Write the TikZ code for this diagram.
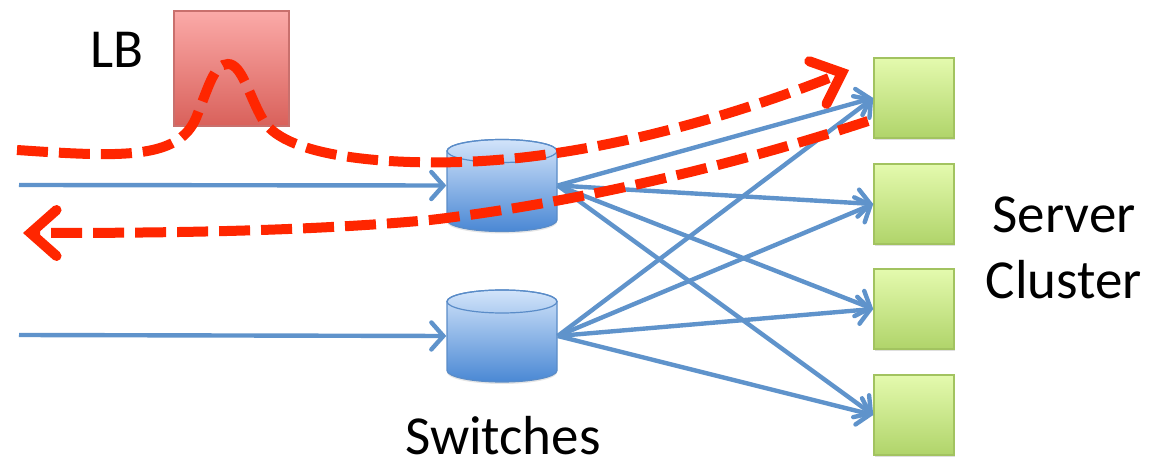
\documentclass[tikz,border=0pt]{standalone}
\usepackage{fontspec}
\setmainfont{Carlito}
\usetikzlibrary{arrows.meta,shadows}

\definecolor{flowred}{HTML}{FF2600}
\definecolor{linkblue}{HTML}{5F93CB}
\definecolor{lbtop}{HTML}{FBAAA8}
\definecolor{lbbot}{HTML}{D9615B}
\definecolor{lbedge}{HTML}{C9706D}
\definecolor{drumtop}{HTML}{D2E4FA}
\definecolor{drumbot}{HTML}{4A88D4}
\definecolor{drumedge}{HTML}{5A8CC8}
\definecolor{srvtop}{HTML}{E4FAAE}
\definecolor{srvbot}{HTML}{B0D46A}
\definecolor{srvedge}{HTML}{A2C360}

\tikzset{
  label/.style={font=\fontsize{55}{66}\selectfont, inner sep=0pt, text=black},
  lbbox/.style={draw=lbedge, line width=1.2pt, top color=lbtop, bottom color=lbbot,
    minimum width=115pt, minimum height=115pt, inner sep=0pt},
  server/.style={draw=srvedge, line width=1.5pt, top color=srvtop, bottom color=srvbot,
    minimum width=80pt, minimum height=80pt, inner sep=0pt,
    drop shadow={opacity=0.25, shadow xshift=1pt, shadow yshift=-2pt}},
  drumanchor/.style={minimum width=111pt, minimum height=93pt, inner sep=0pt},
  link/.style={draw=linkblue, line width=4.4pt,
    -{Straight Barb[length=12pt, width=27pt, line cap=round]}},
  flow/.style={draw=flowred, line width=10pt,
    dash pattern=on 31pt off 11pt,
    -{Straight Barb[length=26pt, width=46pt, line cap=round]}},
  pics/switchdrum/.style={code={
    % one shaded body, lid outlined on top
    \path[draw=drumedge, line width=1.2pt, top color=drumtop, bottom color=drumbot,
          drop shadow={opacity=0.2, shadow xshift=0pt, shadow yshift=-2pt}]
      (-55,-34.5) -- (-55,34.5)
      arc[start angle=180, end angle=360, x radius=55pt, y radius=11.5pt]
      -- (55,-34.5)
      arc[start angle=0, end angle=180, x radius=55pt, y radius=11.5pt] -- cycle;
    \path[draw=drumedge, line width=1.2pt]
      (0,-34.5) ellipse [x radius=55pt, y radius=11.5pt];
  }}
}

\begin{document}
\begin{tikzpicture}[x=1pt, y=-1pt]
\useasboundingbox (0,0) rectangle (1149,462);

% load balancer
\node[lbbox] (lb) at (231.5,68.5) {};
\node[label, anchor=base] (lbtext) at (117,68) {LB};

% switches
\pic at (502,185.5) {switchdrum};
\node[drumanchor] (sw1) at (502,185.5) {};
\pic at (502,336) {switchdrum};
\node[drumanchor] (sw2) at (502,336) {};
\node[label, anchor=base] (swtext) at (503,454) {Switches};

% servers
\node[server] (s1) at (914,98) {};
\node[server] (s2) at (914,204) {};
\node[server] (s3) at (914,309) {};
\node[server] (s4) at (914,415) {};
\node[label, anchor=base] (srvtext1) at (1064,233) {Server};
\node[label, anchor=base] (srvtext2) at (1064,299) {Cluster};

% ingress links
\coordinate (in1) at (19,185);
\coordinate (in2) at (19,335);
\draw[link] (in1) -- (sw1.west);
\draw[link] (in2) -- (sw2.west);

% fabric links
\foreach \s in {s1,s2,s3,s4} {
  \draw[link] (sw1.east) -- (\s.west);
  \draw[link] (sw2.east) -- (\s.west);
}

% request path through the load balancer
\coordinate (reqstart) at (17,150);
\coordinate (reqend) at (849,70);
\draw[flow] (reqstart)
  .. controls (120,157) and (178,160) .. (196,118)
  .. controls (209,86) and (214,64) .. (228,64)
  .. controls (242,64) and (249,96) .. (263,120)
  .. controls (287,160) and (400,164) .. (460,162)
  .. controls (600,158) and (750,110) .. (reqend);

% direct response path
\coordinate (rspstart) at (868,121);
\coordinate (rspend) at (23,233);
\draw[flow] (rspstart)
  .. controls (720,170) and (560,205) .. (430,220)
  .. controls (300,232) and (150,233) .. (rspend);
\end{tikzpicture}
\end{document}
